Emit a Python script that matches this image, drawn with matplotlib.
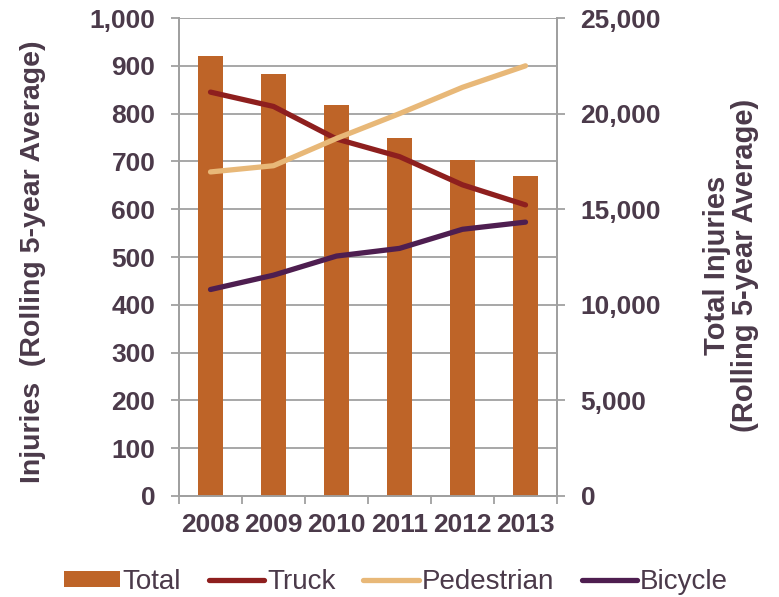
import matplotlib.pyplot as plt
import numpy as np
from matplotlib.ticker import FuncFormatter, MultipleLocator

# data (rolling 5-year averages)
years = ['2008', '2009', '2010', '2011', '2012', '2013']
total = [23000, 22080, 20450, 18740, 17580, 16750]
truck = [845, 815, 747, 710, 651, 609]
pedestrian = [678, 691, 748, 800, 855, 900]
bicycle = [432, 462, 502, 518, 558, 573]

txt = '#4B3A4A'
grid_c = '#A0A0A0'
plt.rcParams['font.family'] = ['Liberation Sans', 'DejaVu Sans']

fig = plt.figure(figsize=(7.79, 5.97), dpi=100)
ax2 = fig.add_axes([0.2298, 0.1692, 0.4852, 0.8006])   # bars, right axis
ax = ax2.twinx()                                        # lines, left axis
ax.yaxis.tick_left()
ax.yaxis.set_label_position('left')
ax2.yaxis.tick_right()
ax2.yaxis.set_label_position('right')
ax.set_zorder(ax2.get_zorder() + 1)
ax.patch.set_visible(False)

x = np.arange(len(years))
ax2.bar(x, total, width=0.4, color='#BE6428', label='Total', zorder=3)
ax.plot(x, truck, color='#8E1F1E', lw=3.8, solid_capstyle='round', label='Truck')
ax.plot(x, pedestrian, color='#E8B878', lw=3.8, solid_capstyle='round', label='Pedestrian')
ax.plot(x, bicycle, color='#4E1E50', lw=3.8, solid_capstyle='round', label='Bicycle')

ax.set_ylim(0, 1000)
ax2.set_ylim(0, 25000)
ax.set_xlim(-0.5, 5.5)

ax.yaxis.set_major_locator(MultipleLocator(100))
ax.yaxis.set_major_formatter(FuncFormatter(lambda v, p: f'{int(v):,}'))
ax2.yaxis.set_major_locator(MultipleLocator(5000))
ax2.yaxis.set_minor_locator(MultipleLocator(2500))
ax2.yaxis.set_major_formatter(FuncFormatter(lambda v, p: f'{int(v):,}'))
ax2.yaxis.grid(True, which='both', color=grid_c, lw=1.3)
ax2.set_axisbelow(True)
ax2.tick_params(axis='y', which='minor', length=0)

ax2.set_xticks(x)
ax2.set_xticklabels(years)
ax2.set_xticks(np.arange(-0.5, 6, 1), minor=True)
ax2.tick_params(axis='x', which='major', length=0, pad=12, labelsize=19, labelcolor=txt)
ax2.tick_params(axis='x', which='minor', length=6, width=1.3, color=grid_c, direction='out')
ax.tick_params(axis='x', which='both', bottom=False, labelbottom=False)
for lab in ax2.get_xticklabels():
    lab.set_fontweight('bold')

ax.tick_params(axis='y', length=6, width=1.3, color=grid_c, pad=11, labelsize=19, labelcolor=txt)
ax2.tick_params(axis='y', which='major', length=6, width=1.3, color=grid_c, pad=11,
                labelsize=19, labelcolor=txt)
for lab in ax.get_yticklabels() + ax2.get_yticklabels():
    lab.set_fontweight('bold')

for a in (ax, ax2):
    a.spines['top'].set_visible(False)
    for s in ('left', 'right', 'bottom'):
        a.spines[s].set_color(grid_c)
        a.spines[s].set_linewidth(1.3)

fig.text(33 / 779, 1 - 262 / 597, 'Injuries  (Rolling 5-year Average)', rotation=90,
         ha='center', va='center', fontsize=20.5, fontweight='bold', color=txt)
fig.text(731 / 779, 1 - 265 / 597, 'Total Injuries\n(Rolling 5-year Average)', rotation=90,
         ha='center', va='center', fontsize=21, fontweight='bold', color=txt,
         multialignment='center', linespacing=1.0)

h1, l1 = ax2.get_legend_handles_labels()
h2, l2 = ax.get_legend_handles_labels()
leg = fig.legend(h1 + h2, l1 + l2, loc='center', bbox_to_anchor=(396 / 779, 1 - 582 / 597),
                 ncol=4, frameon=False, fontsize=20, handlelength=2.0, handleheight=0.5,
                 handletextpad=0.1, columnspacing=1.0)
for t in leg.get_texts():
    t.set_color(txt)

fig.savefig('out.png', dpi=100)
